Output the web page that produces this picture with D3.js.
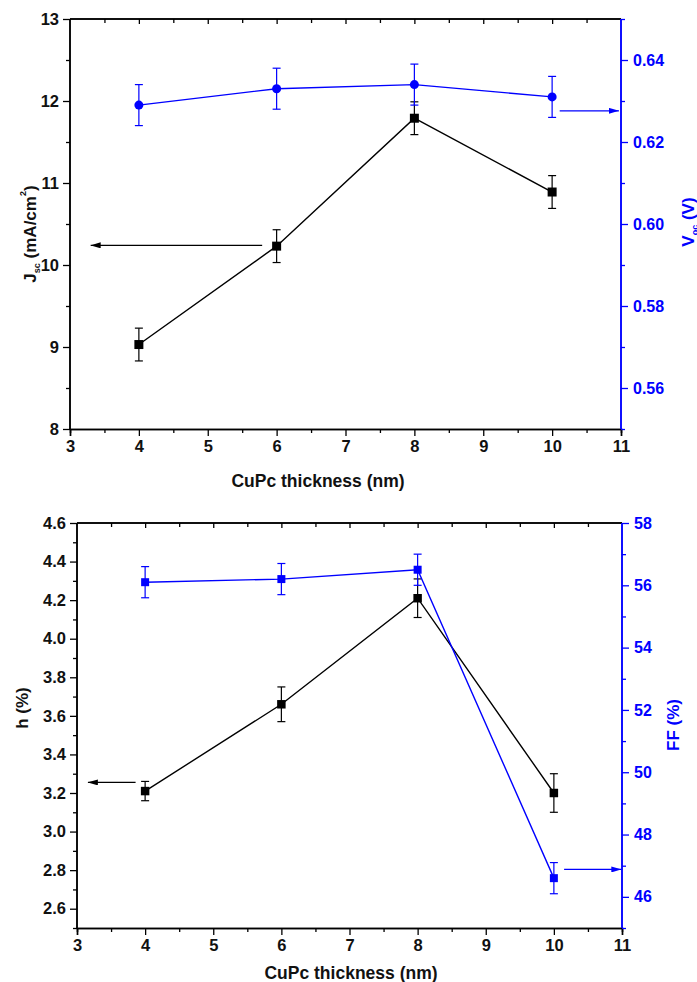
<!DOCTYPE html>
<html>
<head>
<meta charset="utf-8">
<script src="https://cdn.jsdelivr.net/npm/d3@7"></script>
<style>
  html, body { margin: 0; padding: 0; background: #fff; }
  svg { display: block; }
  text { font-family: "Liberation Sans", Arial, sans-serif; font-weight: bold; }
</style>
</head>
<body>
<svg id="fig" width="697" height="982"></svg>
<script>
// CuPc buffer thickness series (nm)
const thickness = [4, 6, 8, 10];

// Upper panel: short-circuit current and open-circuit voltage
const jsc = [9.03, 10.23, 11.79, 10.89];
const jscErr = [0.2, 0.2, 0.2, 0.2];
const voc = [0.629, 0.633, 0.634, 0.631];
const vocErr = [0.005, 0.005, 0.005, 0.005];

// Lower panel: efficiency and fill factor
const eta = [3.21, 3.66, 4.21, 3.20];
const etaErr = [0.05, 0.09, 0.10, 0.10];
const ff = [56.1, 56.2, 56.5, 46.6];
const ffErr = [0.5, 0.5, 0.5, 0.5];

// Axis ticks
const xTicks = [3, 4, 5, 6, 7, 8, 9, 10, 11];
const jscTicks = [8, 9, 10, 11, 12, 13];
const vocTicks = [0.56, 0.58, 0.60, 0.62, 0.64];
const etaTicks = [2.6, 2.8, 3.0, 3.2, 3.4, 3.6, 3.8, 4.0, 4.2, 4.4, 4.6];
const ffTicks = [46, 48, 50, 52, 54, 56, 58];

const BLUE = "#0000ff";
const svg = d3.select("#fig");

function minorBetween(ticks, step) {
  const out = [];
  for (let i = 0; i < ticks.length - 1; i++) out.push(+(ticks[i] + step).toFixed(4));
  return out;
}

function panel(cfg) {
  const g = svg.append("g");
  const x = d3.scaleLinear().domain([3, 11]).range([cfg.left, cfg.right]);
  const yL = d3.scaleLinear().domain(cfg.leftDomain).range([cfg.bottom, cfg.top]);
  const yR = d3.scaleLinear().domain(cfg.rightDomain).range([cfg.bottom, cfg.top]);

  // bottom x axis (ticks outward)
  const xMinor = minorBetween(xTicks, 0.5);
  const gx = g.append("g").attr("transform", `translate(0,${cfg.bottom})`);
  gx.call(d3.axisBottom(x).tickValues(xTicks).tickSize(7).tickPadding(4).tickFormat(d3.format("d")));
  gx.append("g").call(d3.axisBottom(x).tickValues(xMinor).tickSize(4).tickFormat(""));
  // top frame (ticks inward)
  const gt = g.append("g").attr("transform", `translate(0,${cfg.top})`);
  gt.call(d3.axisBottom(x).tickValues(xTicks.slice(1, -1)).tickSize(5).tickFormat(""));
  gt.append("g").call(d3.axisBottom(x).tickValues(xMinor).tickSize(4).tickFormat(""));

  // left axis
  const gl = g.append("g").attr("transform", `translate(${cfg.left},0)`);
  gl.call(d3.axisLeft(yL).tickValues(cfg.leftTicks).tickSize(7).tickPadding(4).tickFormat(cfg.leftFormat));
  gl.append("g").call(d3.axisLeft(yL).tickValues(cfg.leftMinor).tickSize(4).tickFormat(""));

  // right axis
  const gr = g.append("g").attr("transform", `translate(${cfg.right},0)`);
  gr.call(d3.axisRight(yR).tickValues(cfg.rightTicks).tickSize(7).tickPadding(5).tickFormat(cfg.rightFormat));
  gr.append("g").call(d3.axisRight(yR).tickValues(cfg.rightMinor).tickSize(4).tickFormat(""));

  g.selectAll(".domain").attr("stroke-width", 1.5);
  g.selectAll(".tick line").attr("stroke-width", 1.3);
  [gx, gl].forEach(a => a.selectAll("text").attr("font-size", 16.5).attr("fill", "#111"));
  gx.selectAll("path, line").attr("stroke", "#000");
  gt.selectAll(".domain").attr("d", `M${cfg.left},0H${cfg.right}`);
  gr.selectAll("path, line").attr("stroke", BLUE);
  gr.selectAll(".domain").attr("d", `M0,${cfg.bottom}V${cfg.top}`);
  gr.selectAll("text").attr("font-size", 16).attr("fill", BLUE);
  gl.selectAll(".domain").attr("d", `M0,${cfg.bottom}V${cfg.top}`);

  // series helper
  function series(vals, errs, y, color, shape, size) {
    const pts = thickness.map((t, i) => ({ t, v: vals[i], e: errs[i] }));
    g.append("path").datum(pts)
      .attr("fill", "none").attr("stroke", color).attr("stroke-width", 1.4)
      .attr("d", d3.line().x(d => x(d.t)).y(d => y(d.v)));
    const eb = g.append("g").attr("stroke", color).attr("stroke-width", 1.2);
    pts.forEach(d => {
      const cx = x(d.t), y0 = y(d.v - d.e), y1 = y(d.v + d.e);
      eb.append("line").attr("x1", cx).attr("x2", cx).attr("y1", y0).attr("y2", y1);
      eb.append("line").attr("x1", cx - 4).attr("x2", cx + 4).attr("y1", y0).attr("y2", y0);
      eb.append("line").attr("x1", cx - 4).attr("x2", cx + 4).attr("y1", y1).attr("y2", y1);
    });
    const sym = d3.symbol().type(shape).size(size);
    g.append("g").selectAll("path").data(pts).join("path")
      .attr("transform", d => `translate(${x(d.t)},${y(d.v)})`)
      .attr("d", sym).attr("fill", color);
  }
  cfg.draw(series, x, yL, yR);

  // pointer arrows
  const defsId = "ah" + cfg.id;
  function arrow(x0, x1, yv, yScale, color, name) {
    const m = svg.append("defs").append("marker").attr("id", name)
      .attr("viewBox", "0 0 10 6").attr("refX", 10).attr("refY", 3)
      .attr("markerWidth", 10).attr("markerHeight", 6).attr("markerUnits", "userSpaceOnUse")
      .attr("orient", "auto");
    m.append("path").attr("d", "M0,0L10,3L0,6Z").attr("fill", color);
    g.append("line").attr("x1", x(x0)).attr("x2", x(x1)).attr("y1", yScale(yv)).attr("y2", yScale(yv))
      .attr("stroke", color).attr("stroke-width", 1.3).attr("marker-end", `url(#${name})`);
  }
  arrow(cfg.arrowL[0], cfg.arrowL[1], cfg.arrowL[2], yL, "#000", defsId + "L");
  arrow(cfg.arrowR[0], cfg.arrowR[1], cfg.arrowR[2], yR, BLUE, defsId + "R");

  // x title
  g.append("text").attr("x", cfg.xTitleX).attr("y", cfg.xTitleY)
    .attr("text-anchor", "middle").attr("font-size", 17.5).attr("fill", "#111")
    .text("CuPc thickness (nm)");
  return g;
}

// ---------- upper panel ----------
const upperPanel = panel({
  id: "a", left: 70, right: 621, top: 19, bottom: 429,
  leftDomain: [8, 13], rightDomain: [0.55, 0.65],
  leftTicks: jscTicks, leftMinor: minorBetween(jscTicks, 0.5), leftFormat: d3.format("d"),
  rightTicks: vocTicks, rightMinor: [0.55, 0.57, 0.59, 0.61, 0.63, 0.65], rightFormat: d3.format(".2f"),
  arrowL: [5.79, 3.3, 10.24], arrowR: [10.11, 10.97, 0.6276],
  xTitleX: 318, xTitleY: 487,
  draw: (series, x, yL, yR) => {
    series(jsc, jscErr, yL, "#000", d3.symbolSquare, 81);
    series(voc, vocErr, yR, BLUE, d3.symbolCircle, 64);
  }
});

// ---------- lower panel ----------
const lowerPanel = panel({
  id: "b", left: 77, right: 622, top: 523, bottom: 928,
  leftDomain: [2.5, 4.6], rightDomain: [45, 58],
  leftTicks: etaTicks, leftMinor: [2.5, 2.7, 2.9, 3.1, 3.3, 3.5, 3.7, 3.9, 4.1, 4.3, 4.5], leftFormat: d3.format(".1f"),
  rightTicks: ffTicks, rightMinor: [45, 47, 49, 51, 53, 55, 57], rightFormat: d3.format("d"),
  arrowL: [3.86, 3.16, 3.255], arrowR: [10.15, 10.99, 46.88],
  xTitleX: 351, xTitleY: 979,
  draw: (series, x, yL, yR) => {
    series(eta, etaErr, yL, "#000", d3.symbolSquare, 72);
    series(ff, ffErr, yR, BLUE, d3.symbolSquare, 64);
  }
});

// y-axis titles
function yTitle(cx, cy, color, parts) {
  const t = svg.append("text")
    .attr("transform", `translate(${cx},${cy}) rotate(-90)`)
    .attr("text-anchor", "middle").attr("fill", color).attr("font-size", 17);
  parts.forEach(p => {
    const s = t.append("tspan").text(p.t);
    if (p.sub) s.attr("font-size", 9).attr("dy", 4);
    if (p.sup) s.attr("font-size", 9).attr("dy", -10);
    if (p.back) s.attr("dy", p.back);
  });
}
yTitle(36, 234, "#111", [
  { t: "J" }, { t: "sc", sub: true }, { t: " (mA/cm", back: -4 }, { t: "2", sup: true }, { t: ")", back: 10 }
]);
yTitle(694, 222, BLUE, [
  { t: "V" }, { t: "oc", sub: true }, { t: " (V)", back: -4 }
]);
yTitle(28, 708, "#111", [{ t: "h (%)" }]);
yTitle(679, 725, BLUE, [{ t: "FF (%)" }]);
</script>
</body>
</html>
